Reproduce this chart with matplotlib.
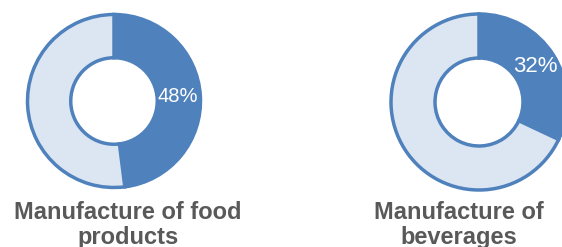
import matplotlib.pyplot as plt

# share of each industry (first slice highlighted)
food_values = [48, 52]
bev_values = [32, 68]
food_title = ['Manufacture of food', 'products']
bev_title = ['Manufacture of', 'beverages']

dark = '#4F81BD'
light = '#DCE6F2'
grey = '#595959'

dpi = 100
fig = plt.figure(figsize=(562 / dpi, 247 / dpi), dpi=dpi)
ax = fig.add_axes([0, 0, 1, 1])


def donut(values, center, radius, pct_size, pct_dist):
    wedges, texts, autotexts = ax.pie(
        values, colors=[dark, light], startangle=90, counterclock=False,
        center=center, radius=radius, autopct='%.0f%%', pctdistance=pct_dist,
        wedgeprops=dict(width=radius * 0.5, edgecolor=dark, linewidth=2.5),
        textprops=dict(color='white', fontsize=pct_size, family='Liberation Sans'),
        frame=True)
    autotexts[1].set_text('')
    return wedges


donut(food_values, (114, 146), 86.5, 14.5, 0.74)
donut(bev_values, (479, 145), 88, 16, 0.76)
ax.set_xlim(0, 562)
ax.set_ylim(0, 247)
ax.set_aspect('equal')
ax.axis('off')

for cx, lines in [(128, food_title), (459, bev_title)]:
    for i, line in enumerate(lines):
        ax.text(cx, 28 - i * 25, line, ha='center', va='baseline',
                fontsize=17, fontweight='bold', color=grey, family='Liberation Sans')

plt.savefig('out.png', dpi=dpi)
